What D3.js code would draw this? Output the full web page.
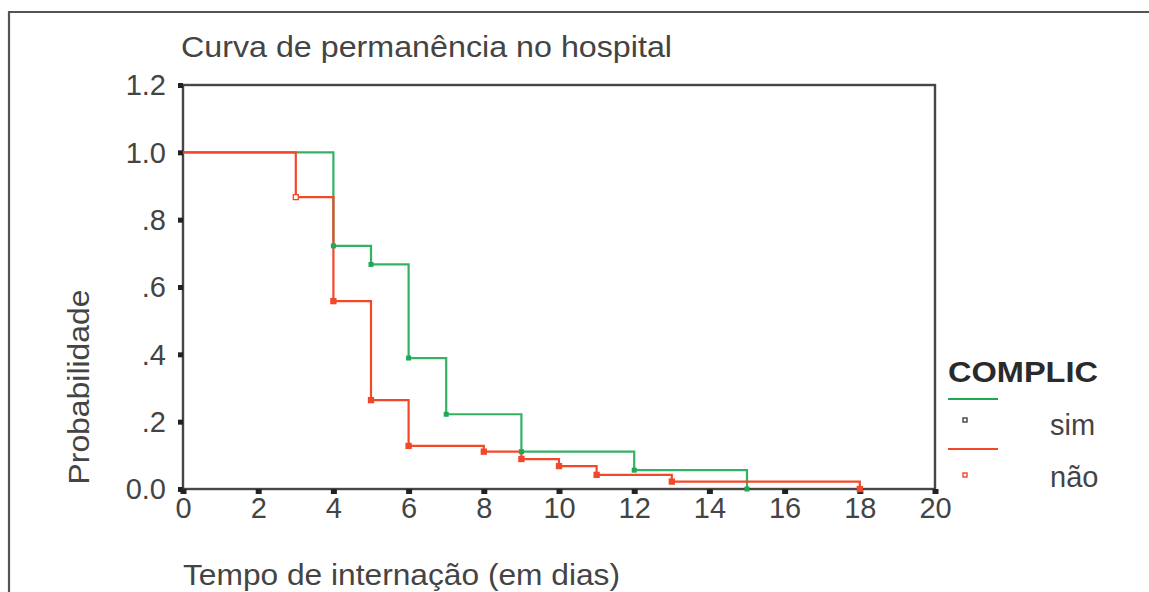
<!DOCTYPE html>
<html><head><meta charset="utf-8">
<script src="https://cdn.jsdelivr.net/npm/d3@7"></script>
<style>
html,body{margin:0;padding:0;background:#fff;}
text{font-family:"Liberation Sans",Arial,sans-serif;}
</style></head>
<body><svg id="c" width="1149" height="592"></svg>
<script>
// ---- data ----
const xTicks = [0,2,4,6,8,10,12,14,16,18,20];
const yTicks = [0,0.2,0.4,0.6,0.8,1.0,1.2];
const yTickLabels = ["0.0",".2",".4",".6",".8","1.0","1.2"];
const simTimes = [0,4,5,6,7,9,12,15];
const simSurv  = [1.0,0.722,0.667,0.389,0.222,0.111,0.056,0.0];
const naoTimes = [0,3,4,5,6,8,9,10,11,13,18];
const naoSurv  = [1.0,0.867,0.558,0.264,0.128,0.111,0.089,0.068,0.042,0.022,0.0];
const seriesNames = ["sim","não"];
const title = "Curva de permanência no hospital";
const xTitle = "Tempo de internação (em dias)";
const yTitle = "Probabilidade";
const legendTitle = "COMPLIC";

const svg = d3.select("#c");
const L=183, R=935, T=85, B=489;
const x = d3.scaleLinear().domain([0,20]).range([L,R]);
const y = d3.scaleLinear().domain([0,1.2]).range([B,T]);
const axisCol="#4a4444", textCol="#444";

// outer frame
svg.append("path").attr("d",`M9,600 L9,12 L1149,12`).attr("fill","none")
  .attr("stroke","#555").attr("stroke-width",2.2);

// title
svg.append("text").attr("x",181).attr("y",57).attr("font-size",30).attr("fill",textCol)
  .attr("textLength",491).attr("lengthAdjust","spacingAndGlyphs").text(title);

// plot box
svg.append("rect").attr("x",L).attr("y",T).attr("width",R-L).attr("height",B-T)
  .attr("fill","none").attr("stroke",axisCol).attr("stroke-width",2.4);

// axes via d3
const yAxis = d3.axisLeft(y).tickValues(yTicks).tickFormat((d,i)=>yTickLabels[i]).tickSize(0).tickPadding(17);
const gy = svg.append("g").attr("transform",`translate(${L},0)`).call(yAxis);
gy.select(".domain").remove();
gy.selectAll("text").attr("font-size",29).attr("fill",textCol).attr("font-family","Liberation Sans, Arial, sans-serif").attr("dy","0.34em");
gy.selectAll(".tick").append("rect").attr("x",-5).attr("y",-2.5).attr("width",5).attr("height",5).attr("fill","#222");

const xAxis = d3.axisBottom(x).tickValues(xTicks).tickFormat(d3.format("d")).tickSize(0).tickPadding(8);
const gx = svg.append("g").attr("transform",`translate(0,${B})`).call(xAxis);
gx.select(".domain").remove();
gx.selectAll("text").attr("font-size",29).attr("fill",textCol).attr("font-family","Liberation Sans, Arial, sans-serif");
gx.selectAll(".tick").append("rect").attr("x",-3).attr("y",0).attr("width",6).attr("height",5).attr("fill","#222");

// axis titles
svg.append("text").attr("x",183).attr("y",585).attr("font-size",30).attr("fill",textCol)
  .attr("textLength",437).attr("lengthAdjust","spacingAndGlyphs").text(xTitle);
svg.append("text").attr("transform","translate(89,387) rotate(-90)").attr("text-anchor","middle")
  .attr("font-size",30).attr("fill",textCol).attr("textLength",195).attr("lengthAdjust","spacingAndGlyphs").text(yTitle);

// curves
const line = d3.line().x(d=>x(d[0])).y(d=>y(d[1])).curve(d3.curveStepAfter);
const green="#1fa855", red="#f2482a";
const simPts = simTimes.map((t,i)=>[t,simSurv[i]]);
const naoPts = naoTimes.map((t,i)=>[t,naoSurv[i]]);
svg.append("path").attr("d",line(simPts)).attr("fill","none").attr("stroke",green).attr("stroke-width",2.2).attr("opacity",0.9);
svg.append("path").attr("d",line(naoPts)).attr("fill","none").attr("stroke",red).attr("stroke-width",2.2);

svg.selectAll(".ms").data(simPts.slice(1)).enter().append("rect")
  .attr("x",d=>x(d[0])-2.5).attr("y",d=>y(d[1])-2.5).attr("width",5).attr("height",5).attr("fill",green);
svg.selectAll(".mn").data(naoPts.slice(1)).enter().append("rect")
  .attr("x",d=>x(d[0])-2.5).attr("y",d=>y(d[1])-2.5).attr("width",5).attr("height",5)
  .attr("fill",(d,i)=>i===0?"#fff":red).attr("stroke",red).attr("stroke-width",1.3);

// legend
svg.append("text").attr("x",948).attr("y",382).attr("font-size",29).attr("font-weight","bold").attr("fill","#2a2a2a")
  .attr("textLength",150).attr("lengthAdjust","spacingAndGlyphs").text(legendTitle);
const lg = [{c:green,mk:"#444",ly:399,my:420,ty:435},{c:red,mk:red,ly:449,my:475,ty:487}];
lg.forEach((o,i)=>{
  svg.append("line").attr("x1",948).attr("x2",998).attr("y1",o.ly).attr("y2",o.ly).attr("stroke",o.c).attr("stroke-width",2.2);
  svg.append("rect").attr("x",963).attr("y",o.my-2).attr("width",4).attr("height",4).attr("fill","#fff").attr("stroke",o.mk).attr("stroke-width",1.4);
  svg.append("text").attr("x",1050).attr("y",o.ty).attr("font-size",29).attr("fill",textCol).text(seriesNames[i]);
});
</script></body></html>
